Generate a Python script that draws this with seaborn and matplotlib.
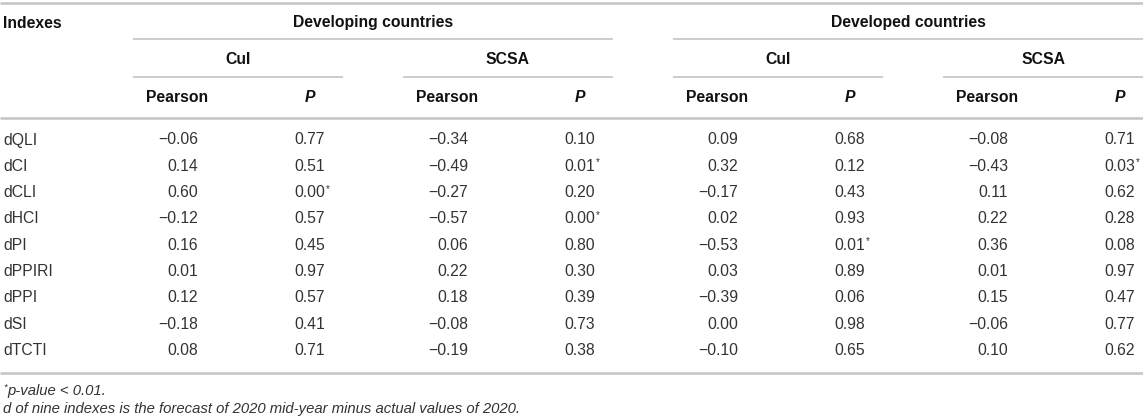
import matplotlib
matplotlib.use("Agg")
import matplotlib.pyplot as plt
import seaborn as sns

# table contents
indexes = ["dQLI", "dCI", "dCLI", "dHCI", "dPI", "dPPIRI", "dPPI", "dSI", "dTCTI"]

groups = ["Developing countries", "Developed countries"]
subgroups = ["CuI", "SCSA"]

dev_cui_r = [-0.06, 0.14, 0.60, -0.12, 0.16, 0.01, 0.12, -0.18, 0.08]
dev_cui_p = [0.77, 0.51, 0.00, 0.57, 0.45, 0.97, 0.57, 0.41, 0.71]
dev_scsa_r = [-0.34, -0.49, -0.27, -0.57, 0.06, 0.22, 0.18, -0.08, -0.19]
dev_scsa_p = [0.10, 0.01, 0.20, 0.00, 0.80, 0.30, 0.39, 0.73, 0.38]
dvd_cui_r = [0.09, 0.32, -0.17, 0.02, -0.53, 0.03, -0.39, 0.00, -0.10]
dvd_cui_p = [0.68, 0.12, 0.43, 0.93, 0.01, 0.89, 0.06, 0.98, 0.65]
dvd_scsa_r = [-0.08, -0.43, 0.11, 0.22, 0.36, 0.01, 0.15, -0.06, 0.10]
dvd_scsa_p = [0.71, 0.03, 0.62, 0.28, 0.08, 0.97, 0.47, 0.77, 0.62]

# rows marked with * in each P column
dev_cui_star = ["dCLI"]
dev_scsa_star = ["dCI", "dHCI"]
dvd_cui_star = ["dPI"]
dvd_scsa_star = ["dCI"]

footnotes = ["p-value < 0.01.",
             "d of nine indexes is the forecast of 2020 mid-year minus actual values of 2020."]

blocks = [
    (dev_cui_r, dev_cui_p, dev_cui_star),
    (dev_scsa_r, dev_scsa_p, dev_scsa_star),
    (dvd_cui_r, dvd_cui_p, dvd_cui_star),
    (dvd_scsa_r, dvd_scsa_p, dvd_scsa_star),
]

sns.set_theme(style="white")
plt.rcParams["font.family"] = ["Liberation Sans", "DejaVu Sans"]

W, H = 1143, 420
fig = plt.figure(figsize=(W / 100, H / 100), dpi=100)
ax = fig.add_axes([0, 0, 1, 1])
ax.set_xlim(0, W)
ax.set_ylim(H, 0)
ax.axis("off")

FS = 11.3
HEAD = "#111111"
BODY = "#333333"
RULE = "#c4c4c4"

# layout
block_x0 = 133
block_step = 270
block_w = 210
r_off, p_off = 44, 177
row_y0, row_h = 140, 26.3
y_group, y_sub, y_col = 23, 60, 97
y_line1, y_line2 = 39, 77
y_head_rule = 117.5
y_bottom = 373


def fmt(v):
    return f"{v:.2f}".replace("-", "\u2212")


# rules
ax.hlines(3, 0, W, color=RULE, lw=1.8)
ax.hlines(y_head_rule, 0, W, color=RULE, lw=1.8)
ax.hlines(y_bottom, 0, W, color=RULE, lw=1.8)

ax.text(3, y_group, "Indexes", ha="left", va="center", fontsize=FS,
        fontweight="bold", color=HEAD)

for g, name in enumerate(groups):
    gx0 = block_x0 + 2 * g * block_step
    gx1 = min(gx0 + block_step + block_w, W)
    ax.hlines(y_line1, gx0, gx1, color=RULE, lw=1.2)
    ax.text((gx0 + gx1) / 2, y_group, name, ha="center", va="center",
            fontsize=FS, fontweight="bold", color=HEAD)

for b, (rvals, pvals, stars) in enumerate(blocks):
    bx0 = block_x0 + b * block_step
    bx1 = min(bx0 + block_w, W)
    ax.hlines(y_line2, bx0, bx1, color=RULE, lw=1.2)
    ax.text((bx0 + bx1) / 2, y_sub, subgroups[b % 2], ha="center", va="center",
            fontsize=FS, fontweight="bold", color=HEAD)
    rc, pc = bx0 + r_off, bx0 + p_off
    ax.text(rc, y_col, "Pearson", ha="center", va="center", fontsize=FS,
            fontweight="bold", color=HEAD)
    ax.text(pc, y_col, "P", ha="center", va="center", fontsize=FS,
            fontweight="bold", fontstyle="italic", color=HEAD)
    for i, name in enumerate(indexes):
        y = row_y0 + i * row_h
        ax.text(rc + 21, y, fmt(rvals[i]), ha="right", va="center",
                fontsize=FS, color=BODY)
        ax.text(pc + 15, y, fmt(pvals[i]), ha="right", va="center",
                fontsize=FS, color=BODY)
        if name in stars:
            ax.text(pc + 15.5, y - 4, "*", ha="left", va="center",
                    fontsize=FS * 0.62, color=BODY)

for i, name in enumerate(indexes):
    ax.text(3, row_y0 + i * row_h, name, ha="left", va="center",
            fontsize=FS, color=BODY)

ax.text(3, 391 - 4, "*", ha="left", va="center", fontsize=FS * 0.6,
        color=BODY, fontstyle="italic")
ax.text(7, 391, footnotes[0], ha="left", va="center", fontsize=FS * 0.95,
        color=BODY, fontstyle="italic")
ax.text(3, 409, footnotes[1], ha="left", va="center", fontsize=FS * 0.95,
        color=BODY, fontstyle="italic")

fig.savefig("out.png", dpi=100, facecolor="white")
